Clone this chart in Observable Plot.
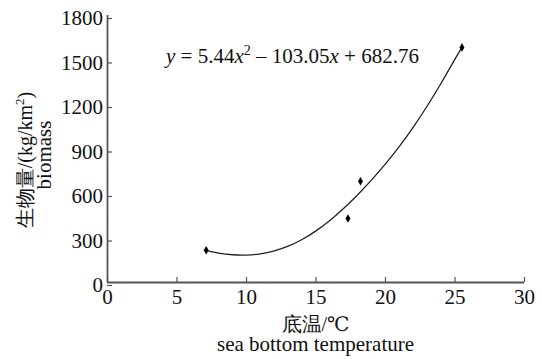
<!DOCTYPE html>
<html>
<head>
<meta charset="utf-8">
<script src="https://cdn.jsdelivr.net/npm/d3@7"></script>
<script src="https://cdn.jsdelivr.net/npm/@observablehq/plot@0.6"></script>
<style>
  html, body { margin: 0; padding: 0; background: #fff; }
  #chart svg { display: block; }
  #chart svg text { font-family: "Liberation Serif", "DejaVu Serif", serif; }
</style>
</head>
<body>
<div id="chart"></div>
<script>
// Observed stations
const temps = [7.1, 17.3, 18.2, 25.5];
const biomass = [217, 431, 683, 1585];

// Fitted curve
const curveTemps = [7.1, 8, 9, 10, 11, 12, 13, 14, 15, 16, 17, 18, 19, 20, 21, 22, 23, 24, 25, 25.5];
const curveBiomass = [217, 198, 187, 185, 193, 213, 245, 290, 348, 418, 500, 592, 692, 800, 918, 1048, 1190, 1343, 1506, 1585];

const xTicks = [0, 5, 10, 15, 20, 25, 30];
const yTicks = [0, 300, 600, 900, 1200, 1500, 1800];

const xTitle = "底温/℃";
const xSubtitle = "sea bottom temperature";
const yTitle = "生物量/(kg/km²)";
const ySubtitle = "biomass";

const points = temps.map((t, i) => ({t, b: biomass[i]}));
const curve = curveTemps.map((t, i) => ({t, b: curveBiomass[i]}));

const FONT = "Liberation Serif";
const AXIS = "#555";

const plot = Plot.plot({
  width: 542,
  height: 359,
  marginLeft: 107,
  marginRight: 18,
  marginTop: 15,
  marginBottom: 77,
  style: {fontFamily: FONT, fontSize: "21px", color: "#111", background: "#fff", overflow: "visible"},
  x: {domain: [0, 30]},
  y: {domain: [0, 1800]},
  marks: [
    Plot.axisX(xTicks, {tickSize: -5, tickPadding: 12, tickFormat: d => String(d), stroke: AXIS, strokeWidth: 1.2, fill: "#111", fontSize: 21, label: null}),
    Plot.axisY(yTicks, {tickSize: -5, tickPadding: 9.5, tickFormat: d => String(d), stroke: AXIS, strokeWidth: 1.2, fill: "#111", fontSize: 21, dy: 3, label: null}),
    Plot.ruleY([0], {stroke: AXIS, strokeWidth: 1.8}),
    Plot.ruleX([0], {stroke: AXIS, strokeWidth: 1.8}),
    Plot.line(curve, {x: "t", y: "b", curve: "natural", stroke: "#222", strokeWidth: 1.3}),
    Plot.dot(points, {x: "t", y: "b", symbol: "diamond", r: 2.6, fill: "#000", stroke: "none"})
  ]
});

document.getElementById("chart").appendChild(plot);

const svg = d3.select(plot);
const cx = (plot.scale("x").range[0] + plot.scale("x").range[1]) / 2;

function addText(x, y, anchor, size) {
  return svg.append("text").attr("x", x).attr("y", y).attr("text-anchor", anchor)
    .attr("font-size", size).style("font-size", size + "px").attr("fill", "#111");
}

// x axis titles
addText(cx, 331, "middle", 20).text(xTitle);
addText(cx, 351, "middle", 21).text(xSubtitle);

// y axis titles (rotated)
const yt = svg.append("text").attr("transform", "translate(32,160) rotate(-90)").attr("text-anchor", "middle")
  .style("font-size", "20px").attr("fill", "#111");
yt.append("tspan").text("生物量/(kg/km");
yt.append("tspan").style("font-size", "13px").attr("dy", -8).text("2");
yt.append("tspan").attr("dy", 8).text(")");
svg.append("text").attr("transform", "translate(51,155) rotate(-90)").attr("text-anchor", "middle")
  .style("font-size", "21px").attr("fill", "#111").text(ySubtitle);

// equation annotation
const eq = addText(166, 63, "start", 21);
eq.append("tspan").attr("font-style", "italic").text("y");
eq.append("tspan").text(" = 5.44");
eq.append("tspan").attr("font-style", "italic").text("x");
eq.append("tspan").style("font-size", "14px").attr("dy", -8).text("2");
eq.append("tspan").attr("dy", 8).text(" – 103.05");
eq.append("tspan").attr("font-style", "italic").text("x");
eq.append("tspan").text(" + 682.76");
</script>
</body>
</html>
